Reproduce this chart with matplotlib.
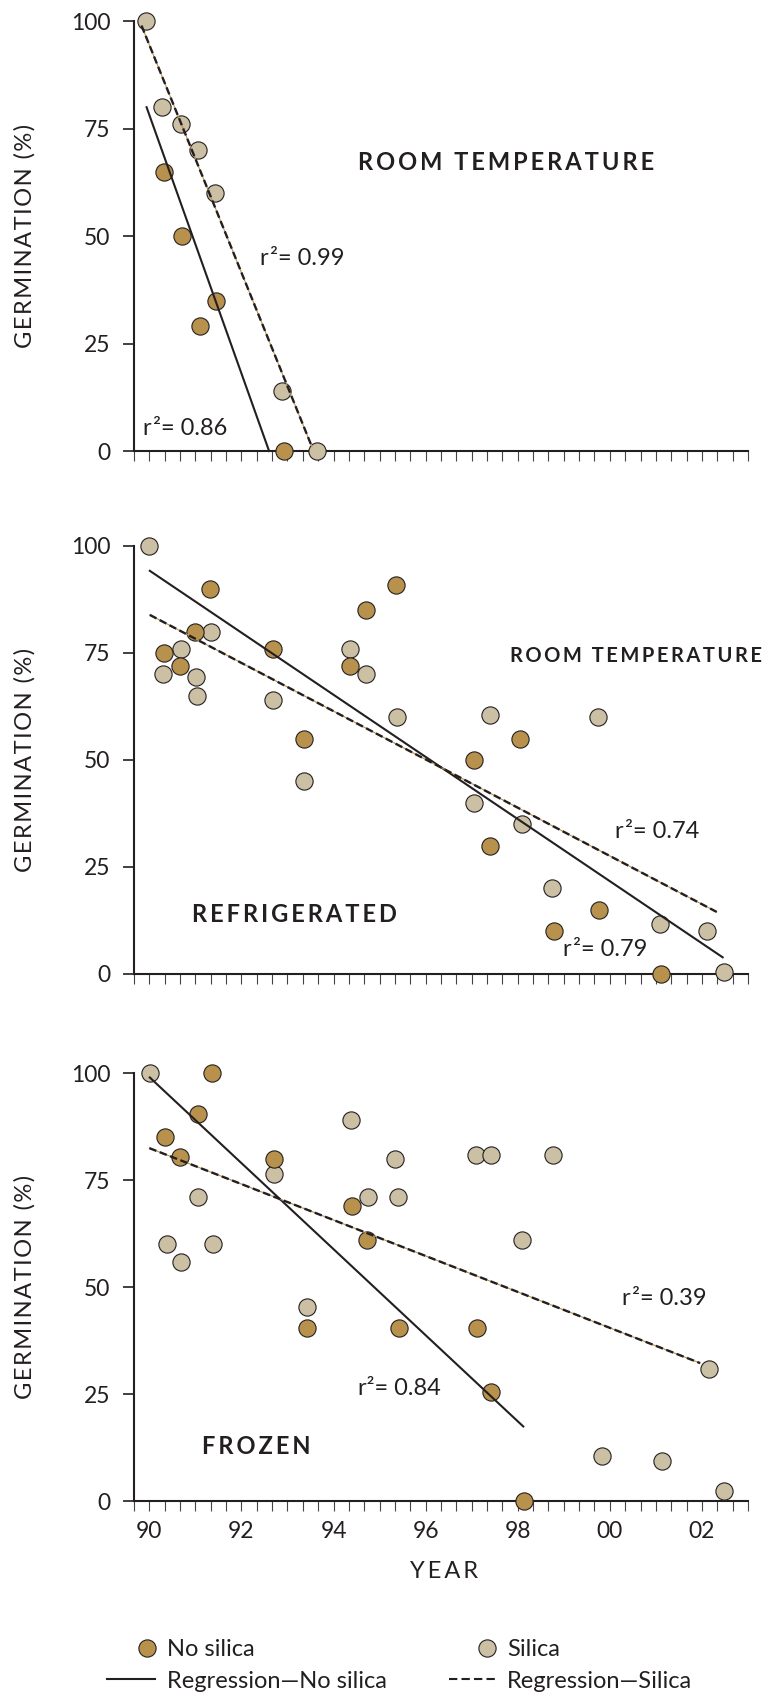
import matplotlib
matplotlib.use("Agg")
import matplotlib.pyplot as plt
import numpy as np

plt.rcParams['font.family'] = ['Lato', 'DejaVu Sans']

ink = '#231f20'
gold = '#b8914c'
tan = '#cbbfa4'

# ---------------------------------------------------------------- data
# room temperature
rt_silica_x = [1989.92, 1990.28, 1990.69, 1991.06, 1991.43, 1992.87, 1993.64]
rt_silica_y = [100, 80, 76, 70, 60, 14, 0]
rt_nosil_x = [1990.31, 1990.70, 1991.09, 1991.44, 1992.92]
rt_nosil_y = [65, 50, 29, 35, 0]
rt_reg_nosil = ([1989.94, 1992.60], [80, 0])
rt_reg_silica = ([1989.83, 1993.53], [99, 1])

# refrigerated
rf_silica_x = [1989.99, 1990.30, 1990.69, 1991.01, 1991.03, 1991.33, 1992.69, 1993.36,
               1994.36, 1994.71, 1995.38, 1997.06, 1997.39, 1998.09, 1998.75, 1999.74,
               2001.09, 2002.10, 2002.48]
rf_silica_y = [100, 70, 76, 69.5, 65, 80, 64, 45, 76, 70, 60, 40, 60.5, 35, 20, 60,
               11.6, 10, 0.5]
rf_nosil_x = [1990.32, 1990.67, 1991.00, 1991.32, 1992.68, 1993.36, 1994.35, 1994.70,
              1995.36, 1997.05, 1997.39, 1998.05, 1998.78, 1999.76, 2001.12]
rf_nosil_y = [75, 72, 80, 90, 76, 55, 72, 85, 91, 50, 30, 55, 10, 15, 0]
rf_reg_nosil = ([1990.01, 2002.45], [94.2, 3.9])
rf_reg_silica = ([1990.01, 2002.32], [83.9, 14.5])

# frozen
fz_silica_x = [1990.01, 1990.39, 1990.68, 1991.06, 1991.38, 1992.71, 1993.42, 1994.37,
               1994.75, 1995.33, 1995.41, 1997.09, 1997.43, 1998.10, 1998.77, 1999.82,
               2001.14, 2002.16, 2002.48]
fz_silica_y = [100, 60, 56, 71, 60, 76.5, 45.5, 89, 71, 80, 71, 81, 81, 61, 81, 10.5,
               9.5, 31, 2.5]
fz_nosil_x = [1990.35, 1990.67, 1991.05, 1991.37, 1992.71, 1993.43, 1994.40, 1994.73,
              1995.43, 1997.11, 1997.43, 1998.14]
fz_nosil_y = [85, 80.5, 90.5, 100, 80, 40.5, 69, 61, 40.5, 40.5, 25.5, 0]
fz_reg_nosil = ([1990.01, 1998.12], [99, 17.5])
fz_reg_silica = ([1990.00, 2001.96], [82.5, 32.3])

year_ticks = [1990, 1992, 1994, 1996, 1998, 2000, 2002]
year_labels = ['90', '92', '94', '96', '98', '00', '02']
germ_ticks = [0, 25, 50, 75, 100]


def spaced(s, sep='\u2009'):
    return sep.join(s)


def draw_panel(ax, sx, sy, nx, ny, reg_n, reg_s, show_labels):
    ax.plot(sx, sy, 'o', ms=12.4, mfc=tan, mec=ink, mew=0.8, clip_on=False, zorder=3)
    ax.plot(nx, ny, 'o', ms=12.4, mfc=gold, mec=ink, mew=0.8, clip_on=False, zorder=3)
    ax.plot(reg_n[0], reg_n[1], color=ink, lw=1.5, zorder=4, clip_on=False)
    ax.plot(reg_s[0], reg_s[1], color=gold, lw=0.8, zorder=4, clip_on=False)
    ax.plot(reg_s[0], reg_s[1], color=ink, lw=1.7, ls=(0, (3.2, 1.5)), zorder=5, clip_on=False)

    ax.set_xlim(1989 + 2 / 3, 2003)
    ax.set_ylim(0, 100)
    for s in ['top', 'right']:
        ax.spines[s].set_visible(False)
    for s in ['left', 'bottom']:
        ax.spines[s].set_linewidth(1.5)
        ax.spines[s].set_color(ink)
    ax.set_yticks(germ_ticks)
    ax.set_xticks(year_ticks)
    ax.set_xticks(np.arange(1989 + 2 / 3, 2003.01, 1 / 3), minor=True)
    if show_labels:
        ax.set_xticklabels(year_labels)
    else:
        ax.set_xticklabels([])
    ax.tick_params(axis='y', direction='out', length=8, width=1.2, color=ink,
                   labelsize=16.5, labelcolor=ink, pad=9)
    ax.tick_params(axis='x', which='both', direction='out', length=7, width=0.8,
                   color='#444444', labelsize=16.5, labelcolor=ink, pad=7)
    ax.text(-0.1775, 0.5, spaced('GERMINATION (%)', '\u200a'), transform=ax.transAxes,
            rotation=90, ha='center', va='center', fontsize=17, color=ink)


fig = plt.figure(figsize=(7.65, 16.96), dpi=100)
ax1 = fig.add_axes([0.17516, 0.73408, 0.80261, 0.25336])
ax2 = fig.add_axes([0.17516, 0.42571, 0.80261, 0.25236])
ax3 = fig.add_axes([0.17516, 0.11474, 0.80261, 0.25248])

draw_panel(ax1, rt_silica_x, rt_silica_y, rt_nosil_x, rt_nosil_y, rt_reg_nosil, rt_reg_silica, False)
draw_panel(ax2, rf_silica_x, rf_silica_y, rf_nosil_x, rf_nosil_y, rf_reg_nosil, rf_reg_silica, False)
draw_panel(ax3, fz_silica_x, fz_silica_y, fz_nosil_x, fz_nosil_y, fz_reg_nosil, fz_reg_silica, True)

bold = dict(fontweight='bold', color=ink, ha='center', va='center')
r2 = dict(fontsize=17, color=ink, ha='left', va='center')

ax1.text(1997.75, 67.2, spaced('ROOM TEMPERATURE'), fontsize=17, **bold)
ax1.text(1992.41, 44.9, 'r\u200a\u00b2= 0.99', **r2)
ax1.text(1989.86, 5.3, 'r\u200a\u00b2= 0.86', **r2)

ax2.text(2000.56, 74.3, spaced('ROOM TEMPERATURE'), fontsize=14.5, **bold)
ax2.text(1993.16, 14.0, spaced('REFRIGERATED'), fontsize=17, **bold)
ax2.text(2000.11, 33.2, 'r\u200a\u00b2= 0.74', **r2)
ax2.text(1998.98, 5.8, 'r\u200a\u00b2= 0.79', **r2)

ax3.text(1992.32, 12.8, spaced('FROZEN'), fontsize=17, **bold)
ax3.text(2000.26, 47.5, 'r\u200a\u00b2= 0.39', **r2)
ax3.text(1994.53, 26.4, 'r\u00b2= 0.84', **r2)

fig.text(444 / 765, 1 - 1572 / 1696, spaced('YEAR'), ha='center', va='center',
         fontsize=17, color=ink)

# legend, laid out in pixel units of the figure bottom
lax = fig.add_axes([0, 0, 1, 80 / 1696])
lax.set_xlim(0, 765)
lax.set_ylim(1696, 1616)
lax.axis('off')
lax.plot([147], [1648], 'o', ms=12.4, mfc=gold, mec=ink, mew=0.8)
lax.plot([487], [1648], 'o', ms=12.4, mfc=tan, mec=ink, mew=0.8)
lax.plot([107, 155], [1679, 1679], color=ink, lw=1.5)
lax.plot([449, 497], [1679, 1679], color=ink, lw=1.5, ls=(0, (4, 2)))
leg = dict(fontsize=17, color=ink, ha='left', va='baseline')
lax.text(167, 1656, 'No silica', **leg)
lax.text(507, 1656, 'Silica', **leg)
lax.text(167, 1688, 'Regression\u2014No silica', **leg)
lax.text(507, 1688, 'Regression\u2014Silica', **leg)

fig.savefig('out.png', dpi=100)
